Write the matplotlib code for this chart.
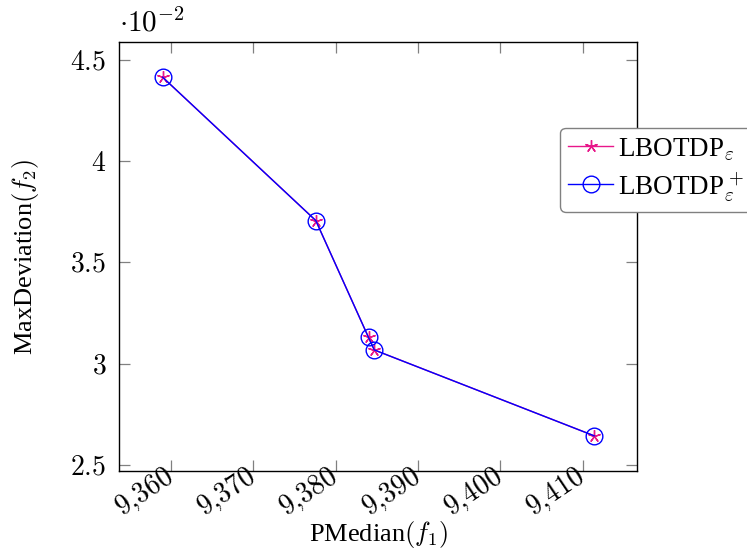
import matplotlib
matplotlib.use("Agg")
import matplotlib.pyplot as plt
from matplotlib.ticker import FixedLocator, FuncFormatter

plt.rcParams['font.family'] = ['Liberation Serif', 'DejaVu Serif']
plt.rcParams['mathtext.fontset'] = 'cm'

# data
pmedian = [9359.0, 9377.6, 9384.0, 9384.7, 9411.4]
max_deviation = [0.04415, 0.03707, 0.03130, 0.03068, 0.02644]
x_ticks = [9360, 9370, 9380, 9390, 9400, 9410]
y_ticks = [2.5, 3.0, 3.5, 4.0, 4.5]
labels = [r'LBOTDP$_\varepsilon$', r'LBOTDP$^+_\varepsilon$']

scale = 1e-2
y_vals = [v / scale for v in max_deviation]

fig = plt.figure(figsize=(7.47, 5.52), dpi=100)
ax = fig.add_axes([0.1593, 0.1467, 0.6934, 0.7772])

ax.plot(pmedian, y_vals, color='#E8178A', lw=1.0, marker=(5, 2, 0),
        markersize=9, markeredgewidth=1.0, label=labels[0], zorder=3)
ax.plot(pmedian, y_vals, color='#0000FF', lw=1.0, marker='o',
        markersize=12, markerfacecolor='none', markeredgewidth=1.0,
        label=labels[1], zorder=4)

ax.set_xlim(9353.7, 9416.6)
ax.set_ylim(2.47, 4.589)

ax.xaxis.set_major_locator(FixedLocator(x_ticks))
ax.yaxis.set_major_locator(FixedLocator(y_ticks))
ax.xaxis.set_major_formatter(FuncFormatter(
    lambda v, p: r'$%d{,}%03d$' % (int(v) // 1000, int(v) % 1000)))
ax.yaxis.set_major_formatter(FuncFormatter(
    lambda v, p: r'$%g$' % v))

ax.tick_params(direction='in', length=8, width=0.9, color='#808080',
               top=True, right=True)
ax.tick_params(axis='y', pad=9, labelsize=20)
ax.tick_params(axis='x', pad=2, labelsize=20)
for lbl in ax.get_xticklabels():
    lbl.set_rotation(34)
    lbl.set_ha('right')
    lbl.set_va('center')
    lbl.set_rotation_mode('anchor')

for s in ax.spines.values():
    s.set_linewidth(1.0)
    s.set_color('black')

ax.text(0.0, 1.01, r'$\cdot10^{-2}$', transform=ax.transAxes,
        ha='left', va='bottom', fontsize=21)

ax.set_xlabel(r'PMedian$(f_1)$', fontsize=19)
ax.xaxis.set_label_coords(0.5, -0.112)
ax.xaxis.label.set_va('top')
ax.set_ylabel(r'MaxDeviation$(f_2)$', fontsize=19)
ax.yaxis.set_label_coords(-0.181, 0.5)
ax.yaxis.label.set_va('center')

leg = ax.legend(loc='upper left', bbox_to_anchor=(0.750, 0.768),
                bbox_transform=fig.transFigure, fontsize=19.5,
                fancybox=True, framealpha=1, edgecolor='#808080',
                handlelength=1.65, handletextpad=0.2, labelspacing=0.3,
                borderpad=0.3, borderaxespad=0)
leg.get_frame().set_linewidth(1.0)

fig.savefig('out.png', dpi=100)
